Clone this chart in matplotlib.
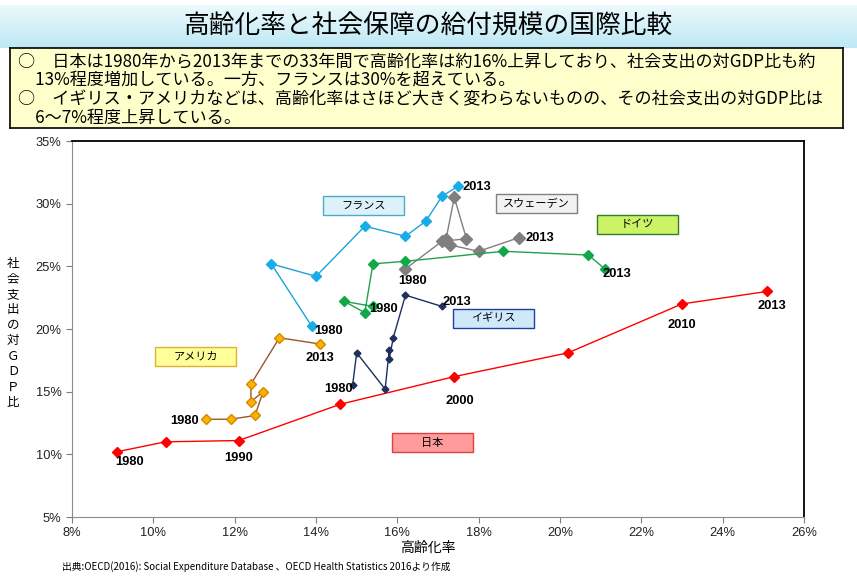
import numpy as np
import matplotlib
matplotlib.use('Agg')
import matplotlib.pyplot as plt
from matplotlib.patches import Rectangle

plt.rcParams['font.family'] = ['Liberation Sans Narrow', 'Liberation Sans', 'Noto Sans CJK JP', 'DejaVu Sans']
JP = ['Noto Sans CJK JP', 'DejaVu Sans']

# データ（高齢化率 %, 社会支出の対GDP比 %）1980,1985,...,2010,2013
japan_age = [9.1, 10.3, 12.1, 14.6, 17.4, 20.2, 23.0, 25.1]
japan_exp = [10.2, 11.0, 11.1, 14.0, 16.2, 18.1, 22.0, 23.0]

usa_age = [11.3, 11.9, 12.5, 12.7, 12.4, 12.4, 13.1, 14.1]
usa_exp = [12.8, 12.8, 13.1, 15.0, 14.2, 15.6, 19.3, 18.8]

uk_age = [14.9, 15.0, 15.7, 15.8, 15.8, 15.9, 16.2, 17.1]
uk_exp = [15.5, 18.1, 15.2, 18.3, 17.6, 19.3, 22.7, 21.8]

france_age = [13.9, 12.9, 14.0, 15.2, 16.2, 16.7, 17.1, 17.5]
france_exp = [20.2, 25.2, 24.2, 28.2, 27.4, 28.6, 30.6, 31.4]

sweden_age = [16.2, 17.1, 17.7, 17.4, 17.2, 17.3, 18.0, 19.0]
sweden_exp = [24.8, 27.0, 27.2, 30.5, 27.2, 26.7, 26.2, 27.3]

germany_age = [15.4, 14.7, 15.2, 15.4, 16.2, 18.6, 20.7, 21.1]
germany_exp = [21.8, 22.2, 21.3, 25.2, 25.4, 26.2, 25.9, 24.8]

years = [1980, 1985, 1990, 1995, 2000, 2005, 2010, 2013]

x_ticks = [8, 10, 12, 14, 16, 18, 20, 22, 24, 26]
y_ticks = [5, 10, 15, 20, 25, 30, 35]

title = '高齢化率と社会保障の給付規模の国際比較'
notes = [
    '○　日本は1980年から2013年までの33年間で高齢化率は約16%上昇しており、社会支出の対GDP比も約',
    '　13%程度増加している。一方、フランスは30%を超えている。',
    '○　イギリス・アメリカなどは、高齢化率はさほど大きく変わらないものの、その社会支出の対GDP比は',
    '　6〜7%程度上昇している。',
]
source = '出典:OECD(2016): Social Expenditure Database 、OECD Health Statistics 2016より作成'

fig = plt.figure(figsize=(8.57, 5.87), dpi=100)
W, H = 857, 587

# タイトルバー（グラデーション）
bar = fig.add_axes([0, 1 - 48 / H, 1, 43 / H])
grad = np.linspace(0, 1, 50).reshape(-1, 1)
c1 = np.array([0.93, 0.98, 0.99])
c2 = np.array([0.74, 0.91, 0.96])
img = c1 + (c2 - c1) * grad[:, :, None]
bar.imshow(np.repeat(img, 2, axis=1), aspect='auto', extent=[0, 1, 0, 1])
bar.set_axis_off()
fig.text(428 / W, 1 - 27 / H, title, ha='center', va='center', fontsize=18.5, family=JP)

# 説明ボックス
box = fig.add_axes([10 / W, 1 - 128 / H, 833 / W, 80 / H])
box.set_facecolor('#FFFFCC')
box.set_xticks([])
box.set_yticks([])
for s in box.spines.values():
    s.set_linewidth(1.2)
    s.set_color('black')
for i, line in enumerate(notes):
    fig.text(18 / W, 1 - (61 + i * 19) / H, line, ha='left', va='center', fontsize=12.3, family=JP)

ax = fig.add_axes([72 / W, 70 / H, 732 / W, 376 / H])

def series(xs, ys, line_c, mk_face, mk_edge, ms, lw=1.0):
    ax.plot(xs, ys, color=line_c, lw=lw, marker='D', ms=ms,
            markerfacecolor=mk_face, markeredgecolor=mk_edge, zorder=3)

series(japan_age, japan_exp, '#FF0000', '#FF0000', '#FF0000', 5)
series(usa_age, usa_exp, '#9C5528', '#FFB000', '#D08A00', 5)
series(uk_age, uk_exp, '#1F2F5E', '#1F2F5E', '#1F2F5E', 3.5)
series(france_age, france_exp, '#1AA3DC', '#18ACE8', '#18ACE8', 5)
series(sweden_age, sweden_exp, '#808080', '#7F7F7F', '#7F7F7F', 6.5)
series(germany_age, germany_exp, '#1FA24A', '#10A848', '#10A848', 5)

# 年ラベル
def year_label(xs, ys, idx, dx, dy):
    ax.annotate(str(years[idx]), (xs[idx], ys[idx]), xytext=(dx, dy),
                textcoords='offset pixels', ha='center', va='center',
                fontsize=9.3, fontweight='bold', family='Liberation Sans', zorder=4)

year_label(japan_age, japan_exp, 0, 13, -10)
year_label(japan_age, japan_exp, 2, 0, -17)
year_label(japan_age, japan_exp, 4, 6, -24)
year_label(japan_age, japan_exp, 6, 0, -21)
year_label(japan_age, japan_exp, 7, 4, -15)
year_label(france_age, france_exp, 0, 17, -5)
year_label(france_age, france_exp, 7, 19, -1)
year_label(sweden_age, sweden_exp, 0, 7, -12)
year_label(sweden_age, sweden_exp, 7, 21, 0)
year_label(germany_age, germany_exp, 0, 11, -3)
year_label(germany_age, germany_exp, 7, 12, -5)
year_label(uk_age, uk_exp, 0, -14, -4)
year_label(uk_age, uk_exp, 7, 15, 4)
year_label(usa_age, usa_exp, 0, -22, -2)
year_label(usa_age, usa_exp, 7, 0, -14)

# 国名ボックス
def country_box(cx, cy, name, face, edge):
    ax.add_patch(Rectangle((cx - 1.0, cy - 0.76), 2.0, 1.52, facecolor=face,
                           edgecolor=edge, lw=1.0, zorder=2))
    ax.text(cx, cy, name, ha='center', va='center', fontsize=8, family=JP, zorder=5)

country_box(15.17, 29.86, 'フランス', '#DDF1FB', '#4BACC6')
country_box(19.42, 30.02, 'スウェーデン', '#F2F2F2', '#808080')
country_box(21.90, 28.34, 'ドイツ', '#CCF266', '#2F7F2F')
country_box(18.36, 20.84, 'イギリス', '#CFE9FB', '#1F3F9F')
country_box(11.04, 17.77, 'アメリカ', '#FFFF99', '#E0B030')
country_box(16.86, 10.91, '日本', '#FF9B9B', '#E04040')

ax.set_xlim(8, 26)
ax.set_ylim(5, 35)
ax.set_xticks(x_ticks)
ax.set_xticklabels([f'{v}%' for v in x_ticks])
ax.set_yticks(y_ticks)
ax.set_yticklabels([f'{v}%' for v in y_ticks])
ax.tick_params(axis='both', labelsize=9.3, colors='#7F7F7F', labelcolor='#222222', length=4, width=0.8)
ax.tick_params(axis='x', pad=3)
for side in ['left', 'bottom']:
    ax.spines[side].set_color('#8C8C8C')
for side in ['top', 'right']:
    ax.spines[side].set_color('black')
    ax.spines[side].set_linewidth(1.3)

fig.text(428 / W, 1 - 548 / H, '高齢化率', ha='center', va='center', fontsize=10, family=JP)
fig.text(13 / W, 1 - 333 / H, '\n'.join('社会支出の対ＧＤＰ比'), ha='center', va='center',
         fontsize=9, family=JP, linespacing=1.25)
fig.text(62 / W, 1 - 567 / H, source, ha='left', va='center', fontsize=7, family=JP)

fig.savefig('out.png', dpi=100)
